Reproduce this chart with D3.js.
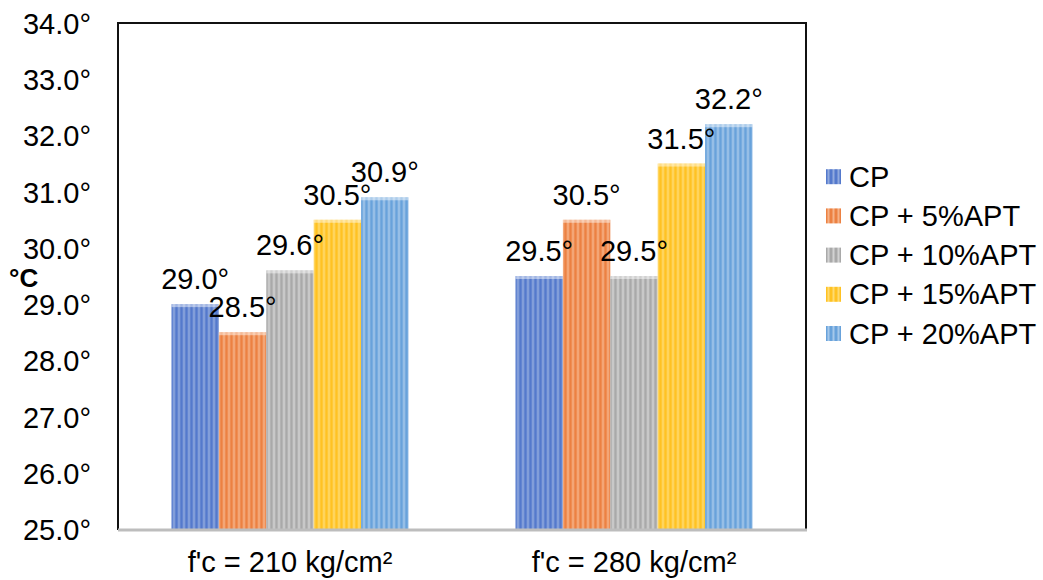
<!DOCTYPE html>
<html>
<head>
<meta charset="utf-8">
<script src="https://cdn.jsdelivr.net/npm/d3@7"></script>
<style>
  html, body { margin: 0; padding: 0; background: #fff; }
  svg { display: block; }
  text { font-family: "Liberation Sans", Arial, sans-serif; fill: #000; }
</style>
</head>
<body>
<svg id="chart" width="1043" height="580"></svg>
<script>
// Concrete temperature by mix and design strength
const categories = ["f'c = 210 kg/cm²", "f'c = 280 kg/cm²"];
const seriesNames = ["CP", "CP + 5%APT", "CP + 10%APT", "CP + 15%APT", "CP + 20%APT"];
const valuesCP    = [29.0, 29.5];
const valuesAPT5  = [28.5, 30.5];
const valuesAPT10 = [29.6, 29.5];
const valuesAPT15 = [30.5, 31.5];
const valuesAPT20 = [30.9, 32.2];
const yTicks = [25, 26, 27, 28, 29, 30, 31, 32, 33, 34];

const seriesValues = [valuesCP, valuesAPT5, valuesAPT10, valuesAPT15, valuesAPT20];
const baseColors  = ["#5479cc", "#ec8142", "#a9a9a9", "#ffc222", "#68a2db"];
const lightColors = ["#9bb3e2", "#f8bb93", "#dadada", "#ffe07e", "#b0cfee"];

const svg = d3.select("#chart");
const plotLeft = 118, plotRight = 806, plotTop = 23, plotBottom = 529;
const fontSize = "29px";

const x = d3.scaleBand().domain(categories).range([plotLeft, plotRight])
  .paddingInner(0.311).paddingOuter(0.1555);
const xs = d3.scaleBand().domain(seriesNames).range([0, x.bandwidth()]).padding(0);
const y = d3.scaleLinear().domain([25, 34]).range([plotBottom, plotTop]);

// Striped fills for the bars
const defs = svg.append("defs");
seriesNames.forEach((s, i) => {
  const p = defs.append("pattern")
    .attr("id", "stripe" + i)
    .attr("patternUnits", "userSpaceOnUse")
    .attr("width", 5).attr("height", 10);
  p.append("rect").attr("width", 5).attr("height", 10).attr("fill", baseColors[i]);
  p.append("rect").attr("x", 1.5).attr("width", 2).attr("height", 10)
    .attr("fill", lightColors[i]).attr("opacity", 0.85);
});

// Plot frame (left, top, right)
svg.append("path")
  .attr("d", `M${plotLeft},${plotBottom + 1}V${plotTop}H${plotRight}V${plotBottom + 1}`)
  .attr("fill", "none").attr("stroke", "#111").attr("stroke-width", 2);

// Y axis tick labels
const yAxis = d3.axisLeft(y).tickValues(yTicks).tickSize(0).tickPadding(0)
  .tickFormat(d => d3.format(".1f")(d) + "°");
const gy = svg.append("g").attr("transform", `translate(91,0)`).call(yAxis);
gy.select(".domain").remove();
gy.selectAll("text")
  .attr("font-family", "Liberation Sans, Arial, sans-serif")
  .attr("font-size", fontSize).attr("fill", "#000")
  .attr("dy", "0.36em");

// Y axis title
svg.append("text").attr("x", 9).attr("y", 287)
  .attr("font-size", "26px").attr("font-weight", "bold").text("°C");

// Bars
const groups = svg.append("g").selectAll("g")
  .data(categories).join("g")
  .attr("transform", d => `translate(${x(d)},0)`);

groups.each(function(cat, ci) {
  const g = d3.select(this);
  seriesNames.forEach((s, si) => {
    const v = seriesValues[si][ci];
    const bx = xs(s), bw = xs.bandwidth();
    g.append("rect")
      .attr("x", bx).attr("y", y(v))
      .attr("width", bw).attr("height", y(25) - y(v))
      .attr("fill", `url(#stripe${si})`);
    g.append("rect")
      .attr("x", bx).attr("y", y(v))
      .attr("width", bw).attr("height", 3)
      .attr("fill", "#fff").attr("opacity", 0.45);
  });
});

// Bottom axis line
svg.append("line")
  .attr("x1", plotLeft).attr("x2", plotRight + 1)
  .attr("y1", plotBottom + 1).attr("y2", plotBottom + 1)
  .attr("stroke", "#bdbdbd").attr("stroke-width", 3);

// Value labels
groups.each(function(cat, ci) {
  const g = d3.select(this);
  seriesNames.forEach((s, si) => {
    const v = seriesValues[si][ci];
    g.append("text")
      .attr("x", xs(s) + xs.bandwidth() / 2)
      .attr("y", y(v) - 15)
      .attr("text-anchor", "middle")
      .attr("font-size", fontSize)
      .text(d3.format(".1f")(v) + "°");
  });
});

// Category labels
svg.append("g").selectAll("text")
  .data(categories).join("text")
  .attr("x", d => x(d) + x.bandwidth() / 2)
  .attr("y", 572)
  .attr("text-anchor", "middle")
  .attr("font-size", fontSize)
  .text(d => d);

// Legend
const legend = svg.append("g").selectAll("g")
  .data(seriesNames).join("g")
  .attr("transform", (d, i) => `translate(826,${176.7 + i * 39.2})`);
legend.append("rect")
  .attr("x", 0).attr("y", -7.5).attr("width", 15).attr("height", 15)
  .attr("fill", (d, i) => `url(#stripe${i})`);
legend.append("text")
  .attr("x", 23).attr("y", 10)
  .attr("font-size", fontSize)
  .text(d => d);
</script>
</body>
</html>
